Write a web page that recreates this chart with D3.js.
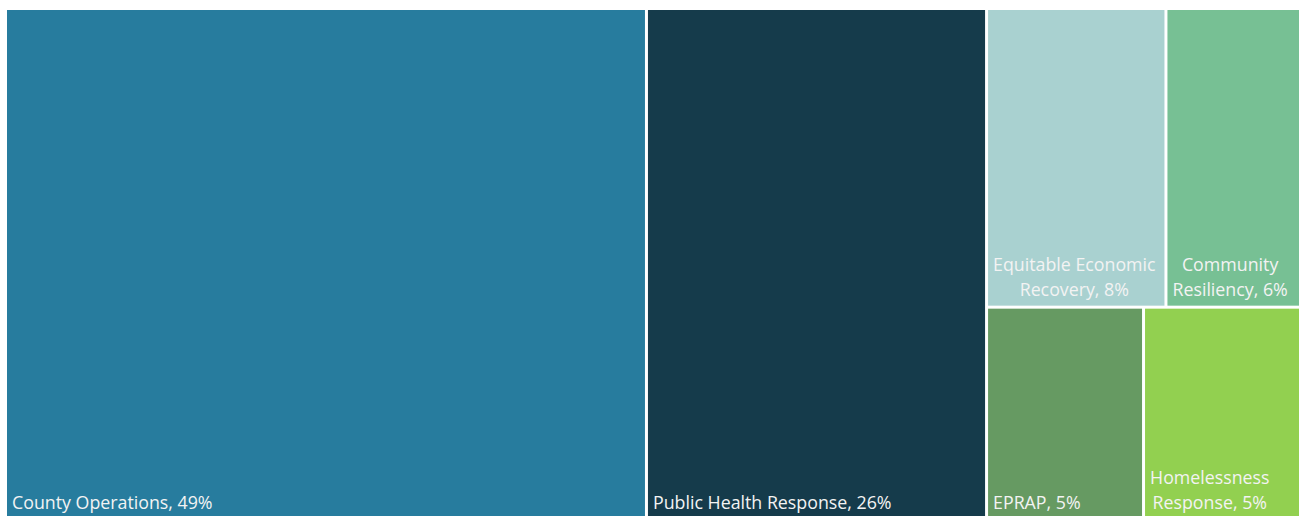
<!DOCTYPE html>
<html>
<head>
<meta charset="utf-8">
<script src="https://cdn.jsdelivr.net/npm/d3@7"></script>
<style>
  html, body { margin: 0; padding: 0; background: #fff; overflow: hidden; }
  svg { display: block; }
</style>
</head>
<body>
<svg id="chart" width="1300" height="516"></svg>
<script>
// Share of funding by program area (percent)
const categories = [
  "County Operations",
  "Public Health Response",
  "Equitable Economic Recovery",
  "Community Resiliency",
  "EPRAP",
  "Homelessness Response"
];
const shares = [49, 26, 8, 6, 5, 5];
const colors = ["#277C9E", "#153B4B", "#A9D1D0", "#77C094", "#669A62", "#92D050"];

// Wrapped label lines for each cell
const labelLines = [
  ["County Operations, 49%"],
  ["Public Health Response, 26%"],
  ["Equitable Economic", "Recovery, 8%"],
  ["Community", "Resiliency, 6%"],
  ["EPRAP, 5%"],
  ["Homelessness", "Response, 5%"]
];

const svg = d3.select("#chart");
const plotLeft = 7, plotTop = 10, plotRight = 1299, plotBottom = 519;

const root = d3.hierarchy({
  children: categories.map((name, i) => ({ name, value: shares[i], color: colors[i], lines: labelLines[i] }))
}).sum(d => d.value || 0);

d3.treemap()
  .tile(d3.treemapBinary)
  .size([plotRight - plotLeft, plotBottom - plotTop])
  .paddingInner(3)
  .round(false)(root);

const g = svg.append("g").attr("transform", `translate(${plotLeft},${plotTop})`);

const cell = g.selectAll("g.cell")
  .data(root.leaves())
  .join("g")
  .attr("class", "cell")
  .attr("transform", d => `translate(${d.x0},${d.y0})`);

cell.append("rect")
  .attr("width", d => d.x1 - d.x0)
  .attr("height", d => d.y1 - d.y0)
  .attr("fill", d => d.data.color);

const lineHeight = 25;
const padX = 5, padBottom = 10;

cell.each(function (d) {
  const node = d3.select(this);
  const h = d.y1 - d.y0;
  const lines = d.data.lines;
  const texts = lines.map((t, i) => node.append("text")
    .attr("x", padX)
    .attr("y", h - padBottom - (lines.length - 1 - i) * lineHeight)
    .attr("fill", "#f3f3f3")
    .style("font-family", "'Open Sans', 'Noto Sans', sans-serif")
    .style("font-size", "17.8px")
    .text(t));
  // multi-line labels: lines centred within the left-aligned text block
  if (lines.length > 1) {
    const widths = texts.map(t => t.node().getComputedTextLength());
    const maxW = d3.max(widths);
    texts.forEach(t => t.attr("text-anchor", "middle").attr("x", padX + maxW / 2));
  }
});
</script>
</body>
</html>
